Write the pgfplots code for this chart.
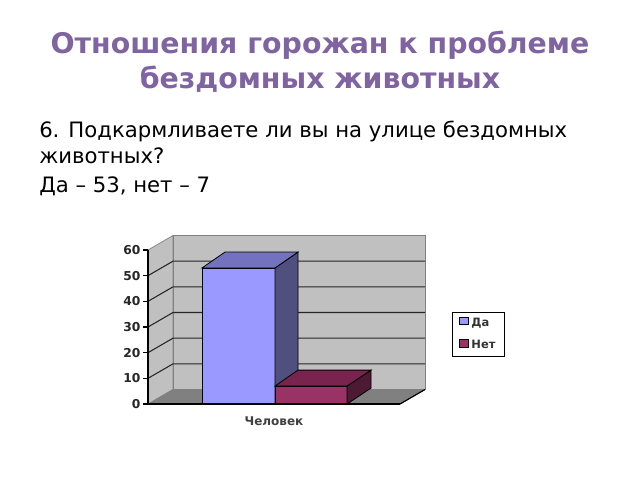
\documentclass[border=0pt]{standalone}
\usepackage{fontspec}
\setmainfont{DejaVu Sans}
\usepackage{pgfplots}
\pgfplotsset{compat=1.18}
\definecolor{ttl}{HTML}{8064A2}
\definecolor{wall}{HTML}{C0C0C0}
\definecolor{floorc}{HTML}{808080}
\definecolor{daF}{HTML}{9999FF}
\definecolor{daT}{HTML}{7272BE}
\definecolor{daS}{HTML}{50507F}
\definecolor{netF}{HTML}{993366}
\definecolor{netT}{HTML}{78244E}
\definecolor{netS}{HTML}{4D1A33}
\begin{document}
\begin{tikzpicture}[x=0.75pt,y=-0.75pt]
\useasboundingbox (0,0) rectangle (640,480);
\fill[white] (0,0) rectangle (640,480);
\node[anchor=base,text=ttl,font=\fontsize{21.3pt}{26pt}\selectfont\bfseries] at (320,53.5) {Отношения горожан к проблеме};
\node[anchor=base,text=ttl,font=\fontsize{21.3pt}{26pt}\selectfont\bfseries] at (320,88) {бездомных животных};
\node[anchor=base west,inner sep=0pt,font=\fontsize{15.9pt}{20pt}\selectfont] at (39,137) {6. Подкармливаете ли вы на улице бездомных};
\node[anchor=base west,inner sep=0pt,font=\fontsize{15.9pt}{20pt}\selectfont] at (39,163) {животных?};
\node[anchor=base west,inner sep=0pt,font=\fontsize{15.9pt}{20pt}\selectfont] at (39,192) {Да – 53, нет – 7};
\begin{axis}[
  anchor=origin, at={(0pt,-303pt)},
  x=0.75pt, y=1.925pt,
  xmin=0, xmax=400, ymin=0, ymax=60,
  clip=false,
  axis on top,
  axis y line*=left, axis x line*=bottom,
  axis line style={-,black,line width=0.9pt},
  x axis line style={shorten <=111pt},
  y axis line style={xshift=111pt},
  ytick={0,10,20,30,40,50,60},
  xtick={274},
  xticklabels={Человек},
  major x tick style={draw=none},
  major y tick style={black,line width=0.9pt,xshift=111pt},
  tick align=outside,
  major tick length=3.5pt,
  /pgf/number format/assume math mode=true,
  yticklabel style={font=\fontsize{9.2pt}{10pt}\selectfont\bfseries,
     inner sep=0pt, anchor=east, xshift=109pt, text=black!85},
  xticklabel style={font=\fontsize{9pt}{10pt}\selectfont\bfseries, yshift=-2.5pt, text=black!75},
  area legend,
  legend image code/.code={\draw[#1,/tikz/.cd,yshift=-0.1em] (0pt,0pt) rectangle (6.5pt,5.5pt);},
  legend style={at={(axis cs:452,35.84)},anchor=north west,draw=black,line width=0.9pt,
     font=\fontsize{8.6pt}{10pt}\selectfont\bfseries,text=black!80,
     inner xsep=5pt,inner ysep=2.2pt,row sep=5pt,
     /tikz/every even column/.append style={column sep=3pt}},
  legend cell align=left,
]
% walls and floor
\addplot[fill=wall,draw=floorc,line width=0.5pt,forget plot] coordinates {(148,0)(173,5.65)(173,65.65)(148,60)} -- cycle;
\addplot[fill=wall,draw=floorc,line width=0.5pt,forget plot] coordinates {(173,5.65)(425,5.65)(425,65.65)(173,65.65)} -- cycle;
\addplot[fill=floorc,draw=floorc,forget plot] coordinates {(148,0)(173,5.65)(425,5.65)(400,0)} -- cycle;
\addplot[black,line width=0.9pt,forget plot] coordinates {(400,0)(425,5.65)};
% gridlines
\addplot[black!85,line width=0.8pt,forget plot] coordinates {(148,10)(173,15.65)(425,15.65)};
\addplot[black!85,line width=0.8pt,forget plot] coordinates {(148,20)(173,25.65)(425,25.65)};
\addplot[black!85,line width=0.8pt,forget plot] coordinates {(148,30)(173,35.65)(425,35.65)};
\addplot[black!85,line width=0.8pt,forget plot] coordinates {(148,40)(173,45.65)(425,45.65)};
\addplot[black!85,line width=0.8pt,forget plot] coordinates {(148,50)(173,55.65)(425,55.65)};
% bar Да
\addplot[fill=daF,draw=black,line width=0.6pt] coordinates {(202,0)(275,0)(275,53)(202,53)} -- cycle;
\addlegendentry{Да}
\addplot[fill=daS,draw=black,line width=0.6pt,forget plot] coordinates {(275,0)(298,6.2)(298,59.2)(275,53)} -- cycle;
\addplot[fill=daT,draw=black,line width=0.6pt,forget plot] coordinates {(202,53)(225,59.2)(298,59.2)(275,53)} -- cycle;
% bar Нет
\addplot[fill=netF,draw=black,line width=0.6pt] coordinates {(275,0)(347,0)(347,7)(275,7)} -- cycle;
\addlegendentry{Нет}
\addplot[fill=netS,draw=black,line width=0.6pt,forget plot] coordinates {(347,0)(371,6.2)(371,13.2)(347,7)} -- cycle;
\addplot[fill=netT,draw=black,line width=0.6pt,forget plot] coordinates {(275,7)(298,13.2)(371,13.2)(347,7)} -- cycle;
\end{axis}
\end{tikzpicture}
\end{document}
